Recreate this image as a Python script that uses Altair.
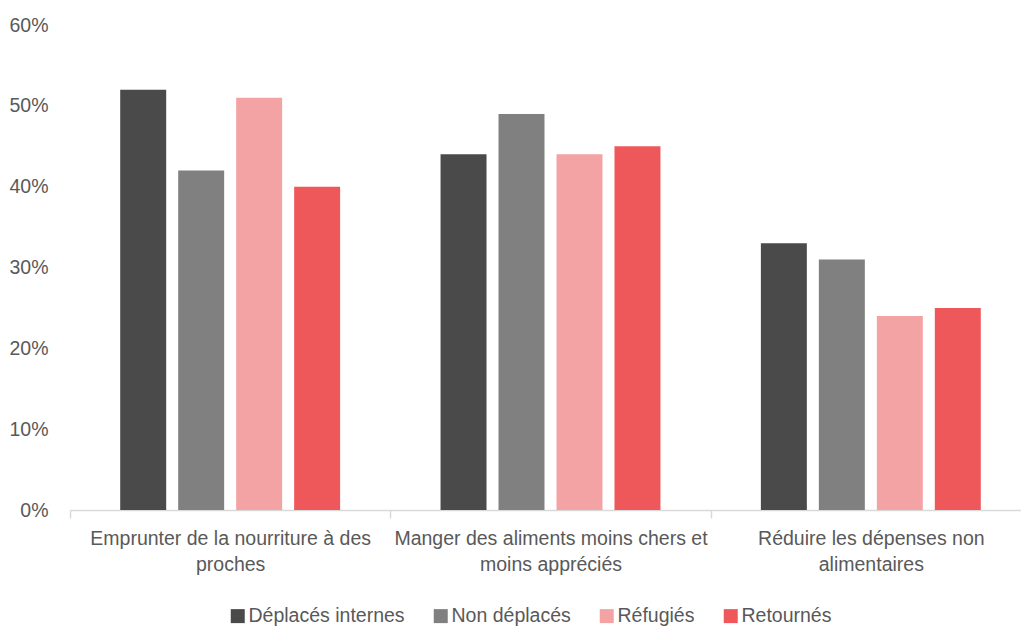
import altair as alt
import pandas as pd

# Coping strategies and population groups
categories = [
    "Emprunter de la nourriture à des proches",
    "Manger des aliments moins chers et moins appréciés",
    "Réduire les dépenses non alimentaires",
]
wrapped = {
    categories[0]: ["Emprunter de la nourriture à des", "proches"],
    categories[1]: ["Manger des aliments moins chers et", "moins appréciés"],
    categories[2]: ["Réduire les dépenses non", "alimentaires"],
}
groups = ["Déplacés internes", "Non déplacés", "Réfugiés", "Retournés"]
colors = ["#4A4A4A", "#808080", "#F4A3A5", "#EF585A"]

# Share of households per group, in category order
deplaces_internes = [0.52, 0.44, 0.33]
non_deplaces = [0.42, 0.49, 0.31]
refugies = [0.51, 0.44, 0.24]
retournes = [0.40, 0.45, 0.25]

series = [deplaces_internes, non_deplaces, refugies, retournes]
rows = []
for g, vals in zip(groups, series):
    for c, v in zip(categories, vals):
        rows.append({"categorie": c, "groupe": g, "valeur": v})
df = pd.DataFrame(rows)

label_expr = " : ".join(
    f"datum.value == '{k}' ? {v!r}" for k, v in wrapped.items()
) + " : datum.label"

FONT = "Liberation Sans"
FS = 19.5
TXT = "#595959"

chart = (
    alt.Chart(df)
    .mark_bar()
    .encode(
        x=alt.X(
            "categorie:N",
            sort=categories,
            title=None,
            scale=alt.Scale(range=[0, 961], paddingInner=0, paddingOuter=0),
            axis=alt.Axis(
                labelAngle=0,
                labelExpr=label_expr,
                labelFontSize=FS,
                labelFont=FONT,
                labelColor=TXT,
                labelLimit=500,
                labelLineHeight=26,
                labelPadding=11,
                tickBand="extent",
                tickSize=8,
                tickColor="#D9D9D9",
                tickWidth=1.5,
                domainColor="#D9D9D9",
                domainWidth=1.5,
                grid=False,
            ),
        ),
        xOffset=alt.XOffset(
            "groupe:N",
            sort=groups,
            scale=alt.Scale(paddingInner=0.207, paddingOuter=0.866),
        ),
        y=alt.Y(
            "valeur:Q",
            title=None,
            scale=alt.Scale(domain=[0, 0.6], nice=False),
            axis=alt.Axis(
                format=".0%",
                values=[0, 0.1, 0.2, 0.3, 0.4, 0.5, 0.6],
                labelFontSize=FS,
                labelFont=FONT,
                labelColor=TXT,
                labelPadding=22,
                domain=False,
                ticks=False,
                grid=False,
            ),
        ),
        color=alt.Color(
            "groupe:N",
            sort=groups,
            scale=alt.Scale(domain=groups, range=colors),
            legend=alt.Legend(
                title=None,
                orient="none",
                legendX=158,
                legendY=581,
                direction="horizontal",
                symbolType="square",
                symbolSize=196,
                symbolStrokeWidth=0,
                labelFontSize=FS,
                labelFont=FONT,
                labelColor=TXT,
                labelOffset=1,
                columnPadding=26,
            ),
        ),
    )
    .properties(
        width=951,
        height=485,
        background="white",
        autosize=alt.AutoSizeParams(type="none"),
        padding={"left": 70, "top": 25, "right": 0, "bottom": 118},
    )
    .configure_view(strokeWidth=0, stroke=None)
)

chart.save("out.html", embed_options={"renderer": "svg", "actions": False})
